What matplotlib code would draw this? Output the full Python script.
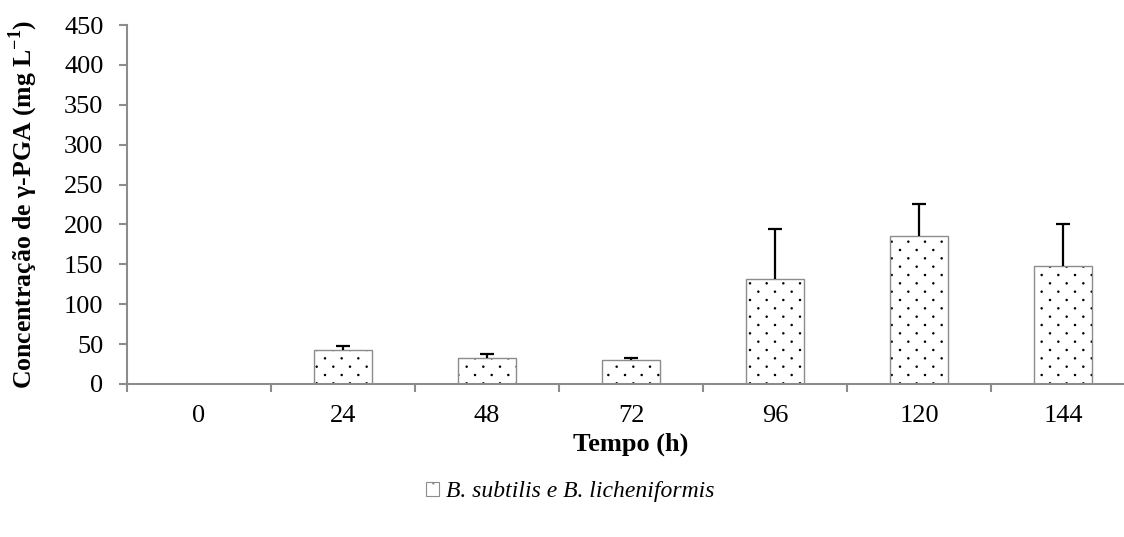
import matplotlib
matplotlib.use("Agg")
import matplotlib.pyplot as plt
import matplotlib.hatch as mhatch
from matplotlib.path import Path
import numpy as np
from matplotlib.patches import Patch

categories = ["0", "24", "48", "72", "96", "120", "144"]
values = [0, 42.5, 32, 30, 131, 185, 147.5]
errors = [0, 5, 6, 2, 63, 41, 53]
series_name = "B. subtilis e B. licheniformis"


# Sparse staggered dot hatch (rows ~8px apart, dots ~17px apart within a row)
class SparseDots(mhatch.HatchPatternBase):
    def __init__(self, hatch, density):
        n = hatch.count('.')
        self.nrows = 12 * n
        self.ncols = 6 * n
        circ = Path.unit_circle()
        self.sv = circ.vertices
        self.sc = circ.codes
        if n == 0:
            self.num_vertices = 0
        else:
            self.num_vertices = len(self._centers()) * len(self.sv)

    def _centers(self):
        pts = []
        for i in range(self.nrows + 1):
            y = i / self.nrows
            if i % 2 == 0:
                xs = np.linspace(0, 1, self.ncols + 1)
            else:
                xs = np.linspace(0.5 / self.ncols, 1 - 0.5 / self.ncols, self.ncols)
            pts += [(xx, y) for xx in xs]
        return np.array(pts)

    def set_vertices_and_codes(self, vertices, codes):
        pts = self._centers()
        r = 0.006
        v = (self.sv * r)[None, :, :] + pts[:, None, :]
        vertices[:] = v.reshape(-1, 2)
        codes[:] = np.tile(self.sc, len(pts))

    def get_vertices_and_codes(self):
        vertices = np.empty((self.num_vertices, 2))
        codes = np.empty(self.num_vertices, Path.code_type)
        self.set_vertices_and_codes(vertices, codes)
        return vertices, codes


mhatch._hatch_types = [t for t in mhatch._hatch_types
                       if t is not mhatch.SmallFilledCircles] + [SparseDots]

plt.rcParams['font.family'] = ['Liberation Serif', 'DejaVu Serif']
plt.rcParams['mathtext.fontset'] = 'custom'
plt.rcParams['mathtext.rm'] = 'Liberation Serif'
plt.rcParams['mathtext.bf'] = 'Liberation Serif:bold'
plt.rcParams['hatch.linewidth'] = 0.9

fig = plt.figure(figsize=(11.24, 5.37), dpi=100)
W, H = 1124, 537
ax = fig.add_axes([127 / W, (H - 384) / H, (1135 - 127) / W, (384 - 25) / H])

x = np.arange(len(categories))
gray = "#8c8c8c"
ax.bar(x, values, width=0.40, color="white", edgecolor="black", hatch=".", linewidth=0, zorder=2)
ax.bar(x, values, width=0.40, color="none", edgecolor=gray, linewidth=1.0, zorder=3)

err = np.array(errors, dtype=float)
vals = np.array(values, dtype=float)
vals_draw = np.where(err > 0, vals, np.nan)
_, caps, _ = ax.errorbar(x, vals_draw, yerr=[np.zeros(len(err)), err],
                         fmt="none", ecolor="black", elinewidth=1.6, capsize=4.7,
                         capthick=1.6, zorder=4)
caps[0].set_visible(False)

ax.set_xlim(-0.5, len(categories) - 0.5)
ax.set_ylim(0, 450)
ax.set_yticks(np.arange(0, 451, 50))
ax.set_xticks(x)
ax.set_xticklabels(categories)
ax.set_xticks(np.arange(-0.5, len(categories), 1), minor=True)
ax.tick_params(axis="x", which="major", length=0, labelsize=19, pad=15)
ax.tick_params(axis="x", which="minor", length=6, color=gray, width=1.5, direction="out")
ax.tick_params(axis="y", length=6, color=gray, width=1.5, labelsize=19, pad=11)

for s in ["top", "right"]:
    ax.spines[s].set_visible(False)
ax.spines["left"].set_color(gray)
ax.spines["bottom"].set_color(gray)
ax.spines["left"].set_linewidth(1.5)
ax.spines["bottom"].set_linewidth(1.5)

ax.set_xlabel("Tempo (h)", fontsize=19, fontweight="bold", labelpad=4)
ax.set_ylabel("Concentração de γ-PGA (mg L$^{\\mathbf{-1}}$)", fontsize=18.5,
              fontweight="bold")
ax.yaxis.set_label_coords((40 - 127) / 1008, 0.5)

handle = Patch(facecolor="white", edgecolor=gray, hatch=".", linewidth=0.8)
fig.legend([handle], [series_name], loc="center", bbox_to_anchor=(570 / W, (H - 492) / H),
           frameon=False, prop={"family": "Liberation Serif", "style": "italic", "size": 17},
           handlelength=0.55, handleheight=0.55, handletextpad=0.3)

fig.savefig("out.png", dpi=100)
